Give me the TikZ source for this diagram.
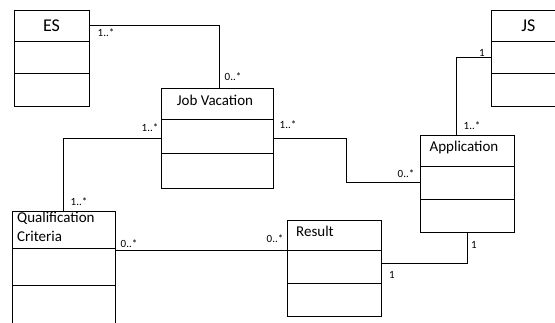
\documentclass[tikz,border=0pt]{standalone}
\usepackage{fontspec}
\setmainfont{Carlito}
\usetikzlibrary{positioning}

\tikzset{
  part/.style={draw, line width=0.8pt, inner sep=0pt, outer sep=0pt, anchor=north west},
  title/.style={font=\fontsize{15}{19}\selectfont, inner sep=0pt},
  bigtitle/.style={font=\fontsize{18}{21}\selectfont, inner sep=0pt},
  mult/.style={font=\fontsize{11}{13}\selectfont, inner sep=0pt},
  link/.style={line width=0.7pt},
}

\begin{document}
\begin{tikzpicture}[x=1pt, y=-1pt]
    \useasboundingbox (0,0) rectangle (555,322);
    \clip (0,0) rectangle (555,322);

    % ES
    \node[part, minimum width=75pt, minimum height=31pt] (es-t) at (14,10) {};
    \node[part, minimum width=75pt, minimum height=32pt, below=0pt of es-t] (es-a) {};
    \node[part, minimum width=75pt, minimum height=33pt, below=0pt of es-a] (es-o) {};
    \node[bigtitle] (es-n) at (es-t.center) {ES};

    % JS
    \node[part, minimum width=75pt, minimum height=31pt] (js-t) at (491,10) {};
    \node[part, minimum width=75pt, minimum height=32pt, below=0pt of js-t] (js-a) {};
    \node[part, minimum width=75pt, minimum height=33pt, below=0pt of js-a] (js-o) {};
    \node[bigtitle] (js-n) at (js-t.center) {JS};

    % Job Vacation
    \node[part, minimum width=112pt, minimum height=31pt] (jv-t) at (161,88) {};
    \node[part, minimum width=112pt, minimum height=34pt, below=0pt of jv-t] (jv-a) {};
    \node[part, minimum width=112pt, minimum height=35pt, below=0pt of jv-a] (jv-o) {};
    \node[title] (jv-n) at ([xshift=-2pt,yshift=3pt]jv-t.center) {Job Vacation};

    % Application
    \node[part, minimum width=94pt, minimum height=31pt] (app-t) at (420,135) {};
    \node[part, minimum width=94pt, minimum height=33pt, below=0pt of app-t] (app-a) {};
    \node[part, minimum width=94pt, minimum height=33pt, below=0pt of app-a] (app-o) {};
    \node[title] (app-n) at ([xshift=-3pt,yshift=3pt]app-t.center) {Application};

    % Qualification Criteria
    \node[part, minimum width=103pt, minimum height=37pt] (qc-t) at (12,211) {};
    \node[part, minimum width=103pt, minimum height=37pt, below=0pt of qc-t] (qc-a) {};
    \node[part, minimum width=103pt, minimum height=55pt, below=0pt of qc-a] (qc-o) {};
    \node[title, align=left, anchor=north west] (qc-n) at ([xshift=5pt,yshift=-1pt]qc-t.north west) {Qualification\\Criteria};

    % Result
    \node[part, minimum width=94pt, minimum height=30pt] (res-t) at (287,220) {};
    \node[part, minimum width=94pt, minimum height=33pt, below=0pt of res-t] (res-a) {};
    \node[part, minimum width=94pt, minimum height=33pt, below=0pt of res-a] (res-o) {};
    \node[title, anchor=west] (res-n) at ([xshift=9pt,yshift=4pt]res-t.west) {Result};

    % associations
    \draw[link] (es-t.east) -| ([xshift=2pt]jv-t.north);
    \draw[link] ([yshift=-2pt]jv-a.west) -| (qc-t.north);
    \draw[link] ([yshift=-2pt]jv-a.east) -- ++(73,0) |- (app-a.west);
    \draw[link] (qc-t.east |- res-a.north west) -- (res-a.north west);
    \draw[link] ([yshift=3pt]res-a.east) -| (app-o.south);
    \draw[link] (js-a.west) -| ([xshift=-11pt]app-t.north);

    % multiplicities
    \node[mult] (m-es) at (106,33) {1..*};
    \node[mult] (m-jv-es) at (233,77) {0..*};
    \node[mult] (m-jv-qc) at (150,128) {1..*};
    \node[mult] (m-qc-jv) at (79,202) {1..*};
    \node[mult] (m-qc-res) at (129,244) {0..*};
    \node[mult] (m-res-qc) at (275,239) {0..*};
    \node[mult] (m-res-app) at (392,275) {1};
    \node[mult] (m-app-res) at (474,245) {1};
    \node[mult] (m-app-jv) at (406,174) {0..*};
    \node[mult] (m-jv-app) at (288,125) {1..*};
    \node[mult] (m-js) at (482,53) {1};
    \node[mult] (m-app-js) at (472,126) {1..*};
\end{tikzpicture}
\end{document}
